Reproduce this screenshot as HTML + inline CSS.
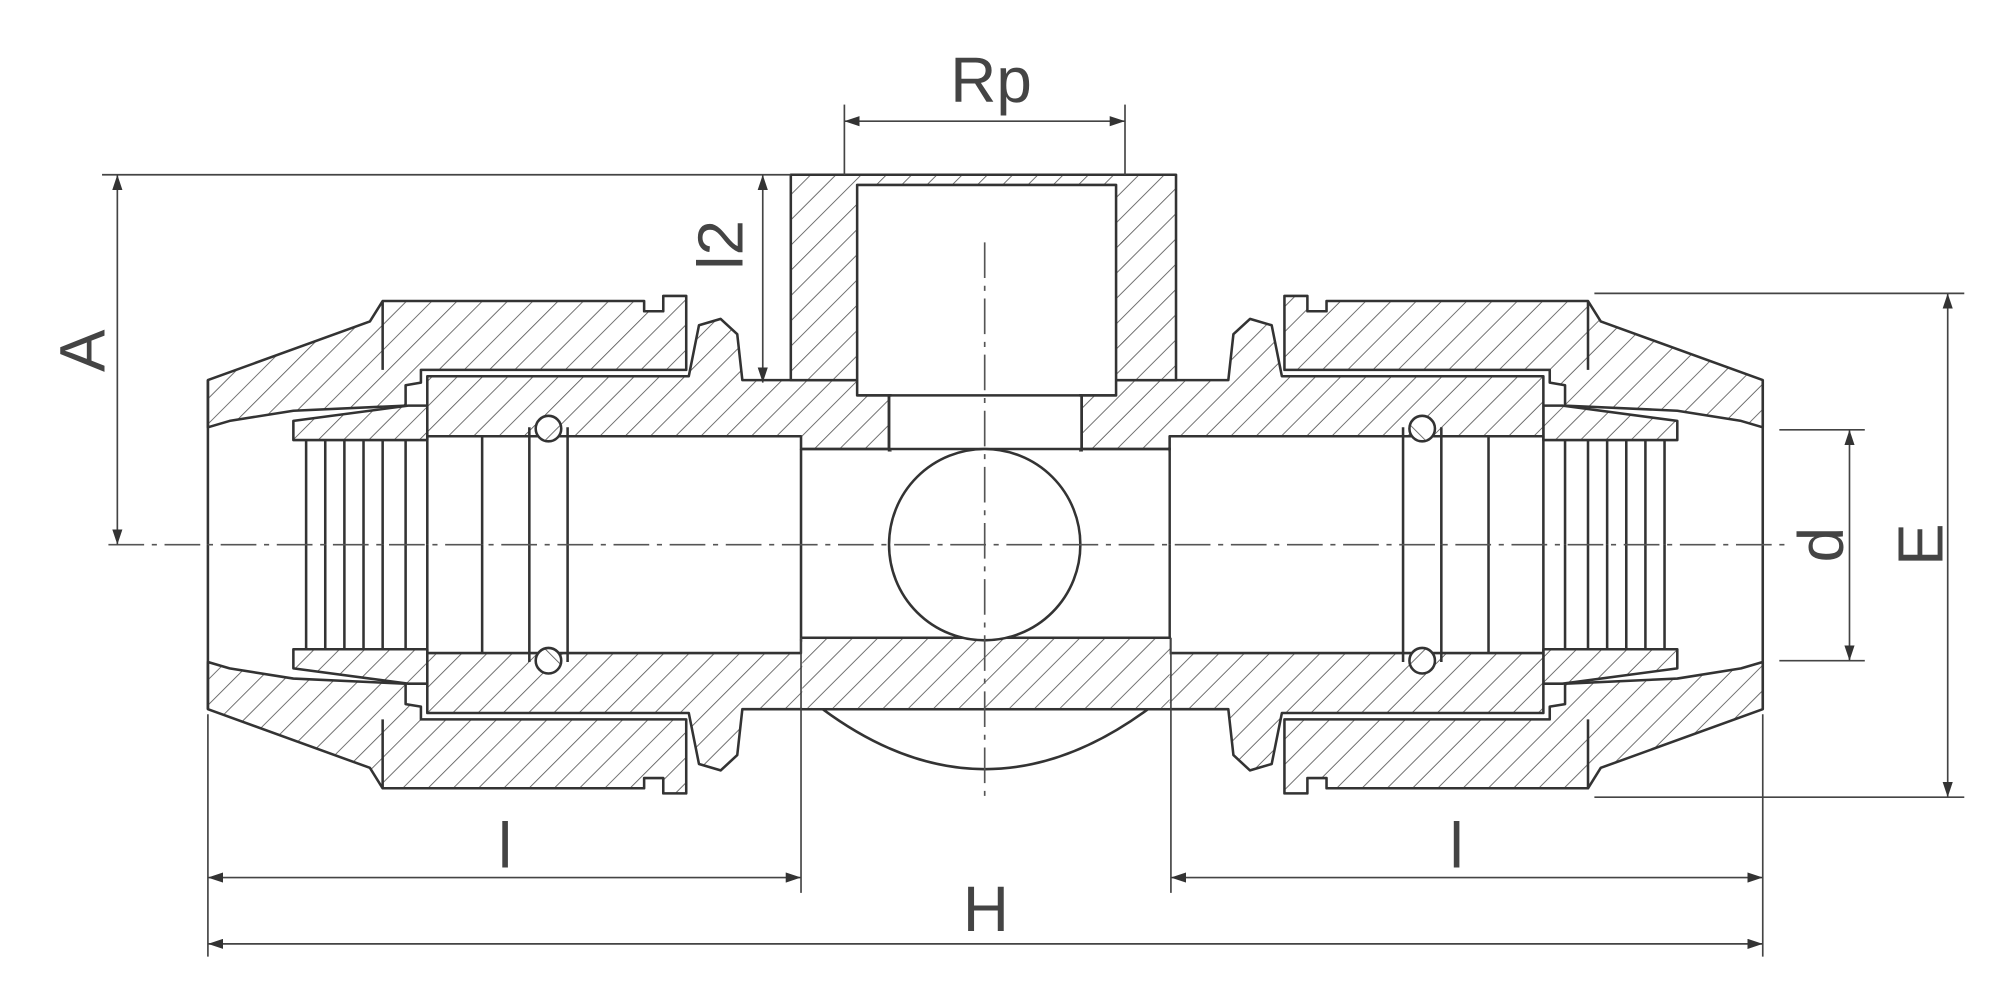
<!DOCTYPE html>
<html><head><meta charset="utf-8">
<style>
html,body{margin:0;padding:0;background:#fff;}
svg{display:block;}
.s{stroke:#333;stroke-width:2;stroke-linejoin:round;}
.h{fill:var(--h);}
.t{font-family:"Liberation Sans",sans-serif;fill:#444;font-size:50px;}
.d{stroke:#444;stroke-width:1.3;fill:none;}
</style></head><body>
<svg width="2000" height="1000" viewBox="0 0 1568 784" preserveAspectRatio="none" xmlns="http://www.w3.org/2000/svg">
<defs>
<pattern id="h1" width="14" height="14" patternUnits="userSpaceOnUse" patternTransform="rotate(45)">
<rect width="14" height="14" fill="#fff"/><line x1="0" y1="0" x2="0" y2="14" stroke="#555" stroke-width="1.3"/></pattern>
<pattern id="h2" width="14" height="14" patternUnits="userSpaceOnUse" patternTransform="rotate(-45)">
<rect width="14" height="14" fill="#fff"/><line x1="0" y1="0" x2="0" y2="14" stroke="#555" stroke-width="1.3"/></pattern>
<marker id="ar" markerWidth="12" markerHeight="8" refX="12" refY="4" orient="auto-start-reverse" markerUnits="userSpaceOnUse">
<path d="M0,0 L12,4 L0,8 Z" fill="#333"/></marker>
<g id="quad">
  <path class="s h" d="M163,298 L290,252 L300,236 L505,236 L505,244 L520,244 L520,232 L538,232 L538,290 L330,290 L330,300 L318,302 L318,318 L230,322 L180,330 L163,335 Z"/>
  <line class="s" x1="163" y1="298" x2="163" y2="427"/>
  <line class="s" x1="300" y1="236" x2="300" y2="290"/>
  <path class="s h" d="M230,330 L320,318 L335,318 L335,345 L230,345 Z"/>
  <path class="s h" d="M335,295 L540,295 L548,255 L565,250 L578,262 L582,298 L772,298 L772,352 L628,352 L628,342 L335,342 Z"/>
  <g class="s">
    <line x1="240" y1="345" x2="240" y2="427"/><line x1="255" y1="345" x2="255" y2="427"/>
    <line x1="270" y1="345" x2="270" y2="427"/><line x1="285" y1="345" x2="285" y2="427"/>
    <line x1="300" y1="345" x2="300" y2="427"/><line x1="318" y1="345" x2="318" y2="427"/>
    <line x1="335" y1="342" x2="335" y2="427"/><line x1="378" y1="342" x2="378" y2="427"/>
    <line x1="415" y1="335" x2="415" y2="427"/><line x1="445" y1="335" x2="445" y2="427"/>
    <line x1="628" y1="352" x2="628" y2="427"/>
  </g>
  <circle class="s" cx="430" cy="336" r="10" fill="url(#h1)"/>
</g>
</defs>

<use href="#quad" style="--h:url(#h1)"/>
<use href="#quad" transform="translate(0,854) scale(1,-1)" style="--h:url(#h2)"/>
<use href="#quad" transform="translate(1545,0) scale(-1,1)" style="--h:url(#h2)"/>
<use href="#quad" transform="translate(1545,854) scale(-1,-1)" style="--h:url(#h1)"/>

<rect x="629" y="501" width="288" height="54" fill="url(#h1)"/>

<path class="s" fill="url(#h1)" d="M620,298 L620,137 L922,137 L922,298 L848,298 L848,352 L697,352 L697,298 Z"/>
<rect class="s" x="672" y="145" width="203" height="165" fill="#fff"/>
<rect class="s" x="697" y="310" width="151" height="44" fill="#fff"/>
<rect x="699" y="300" width="147" height="56" fill="#fff"/>
<line class="s" x1="697" y1="310" x2="697" y2="352"/><line class="s" x1="848" y1="310" x2="848" y2="352"/>
<line class="s" x1="672" y1="310" x2="875" y2="310"/>
<rect x="630" y="354" width="286" height="145" fill="#fff"/>
<line class="s" x1="628" y1="352" x2="918" y2="352"/>
<line class="s" x1="628" y1="500" x2="918" y2="500"/>
<circle class="s" cx="772" cy="427" r="75" fill="#fff"/>
<path class="s" fill="none" d="M645,556 Q772,650 900,556"/>

<line x1="85" y1="427" x2="1400" y2="427" stroke="#555" stroke-width="1.3" stroke-dasharray="28,6,4,6"/>
<line x1="772" y1="190" x2="772" y2="628" stroke="#555" stroke-width="1.3" stroke-dasharray="28,6,4,6"/>

<line class="d" x1="662" y1="82" x2="662" y2="137"/><line class="d" x1="882" y1="82" x2="882" y2="137"/>
<line class="d" x1="662" y1="95" x2="882" y2="95" marker-start="url(#ar)" marker-end="url(#ar)"/>
<text class="t" x="777" y="80" text-anchor="middle">Rp</text>

<line class="d" x1="80" y1="137" x2="620" y2="137"/>
<line class="d" x1="92" y1="137" x2="92" y2="427" marker-start="url(#ar)" marker-end="url(#ar)"/>
<text class="t" transform="translate(82,275) rotate(-90)" text-anchor="middle">A</text>

<line class="d" x1="598" y1="137" x2="598" y2="300" marker-start="url(#ar)" marker-end="url(#ar)"/>
<text class="t" transform="translate(582,192) rotate(-90)" text-anchor="middle">l2</text>

<line class="d" x1="1250" y1="230" x2="1540" y2="230"/><line class="d" x1="1250" y1="625" x2="1540" y2="625"/>
<line class="d" x1="1527" y1="230" x2="1527" y2="625" marker-start="url(#ar)" marker-end="url(#ar)"/>
<text class="t" transform="translate(1523,427) rotate(-90)" text-anchor="middle">E</text>

<line class="d" x1="1395" y1="337" x2="1462" y2="337"/><line class="d" x1="1395" y1="518" x2="1462" y2="518"/>
<line class="d" x1="1450" y1="337" x2="1450" y2="518" marker-start="url(#ar)" marker-end="url(#ar)"/>
<text class="t" transform="translate(1445,427) rotate(-90)" text-anchor="middle">d</text>

<line class="d" x1="163" y1="560" x2="163" y2="750"/><line class="d" x1="628" y1="500" x2="628" y2="700"/>
<line class="d" x1="918" y1="500" x2="918" y2="700"/><line class="d" x1="1382" y1="560" x2="1382" y2="750"/>
<line class="d" x1="163" y1="688" x2="628" y2="688" marker-start="url(#ar)" marker-end="url(#ar)"/>
<line class="d" x1="918" y1="688" x2="1382" y2="688" marker-start="url(#ar)" marker-end="url(#ar)"/>
<text class="t" x="396" y="680" text-anchor="middle">l</text>
<text class="t" x="1142" y="680" text-anchor="middle">l</text>
<line class="d" x1="163" y1="740" x2="1382" y2="740" marker-start="url(#ar)" marker-end="url(#ar)"/>
<text class="t" x="773" y="730" text-anchor="middle">H</text>
</svg>
</body></html>
